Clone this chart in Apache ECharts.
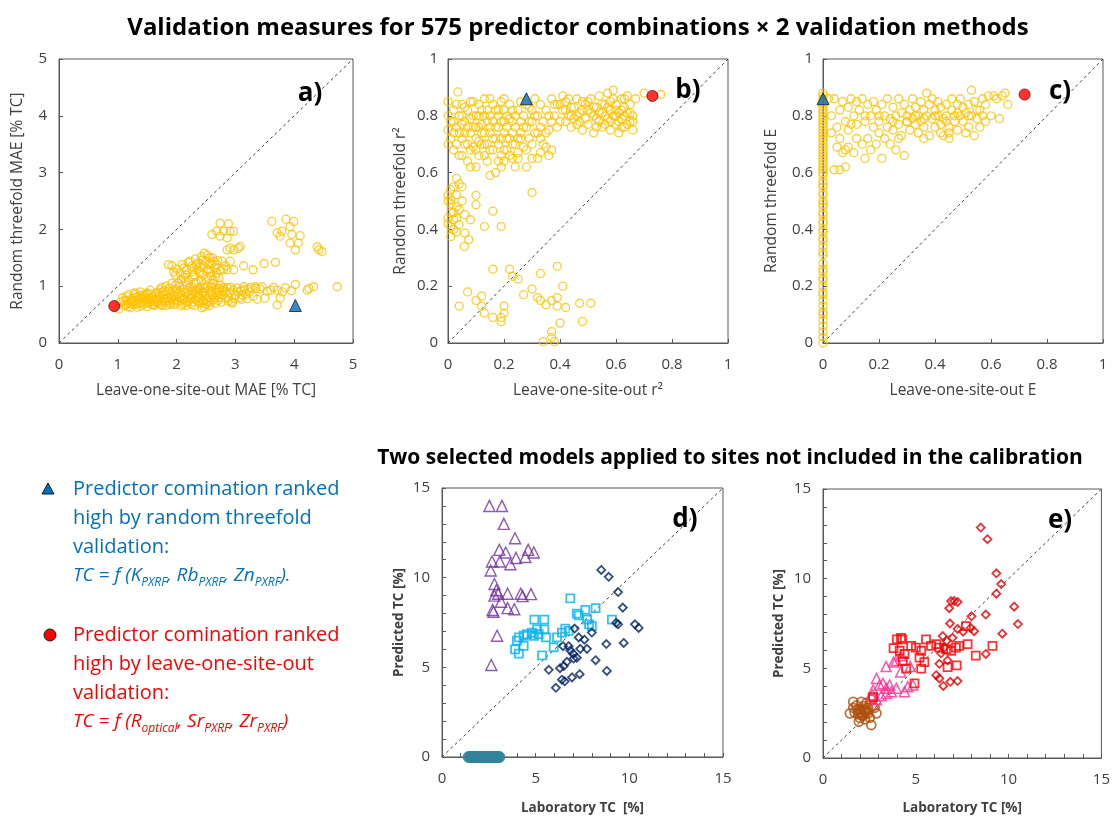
<!DOCTYPE html>
<html>
<head>
<meta charset="utf-8">
<script src="https://cdn.jsdelivr.net/npm/echarts@6/dist/echarts.min.js"></script>
<style>
html, body { margin: 0; padding: 0; background: #fff; }
#chart { width: 1113px; height: 816px; }
</style>
</head>
<body>
<div id="chart"></div>
<script>
// ---- data ----
// a) leave-one-site-out MAE vs random threefold MAE
var maeYellow = [
  [1.02,0.6],[1.05,0.72],[1.08,0.8],[1.12,0.66],[1.15,0.75],[1.18,0.85],[1.2,0.7],[1.22,0.62],[1.25,0.78],[1.28,0.88],
  [1.3,0.68],[1.32,0.74],[1.35,0.82],[1.38,0.9],[1.4,0.65],[1.42,0.72],[1.45,0.79],[1.48,0.86],[1.5,0.7],[1.52,0.76],
  [1.55,0.93],[1.58,0.67],[1.6,0.82],[1.62,0.74],[1.65,0.88],[1.68,0.7],[1.7,0.78],[1.72,0.95],[1.75,0.66],[1.78,0.84],
  [1.8,0.73],[1.82,1.0],[1.85,0.9],[1.88,0.68],[1.9,0.8],[1.92,1.05],[1.95,0.75],[1.97,0.92],[2.0,0.7],[2.02,0.86],
  [2.05,1.0],[2.07,0.65],[2.1,0.78],[2.12,0.94],[2.15,1.08],[2.17,0.72],[2.2,0.84],[2.22,0.98],[2.25,0.68],[2.27,0.9],
  [2.3,1.04],[2.32,0.76],[2.35,0.82],[2.37,0.96],[2.4,0.7],[2.42,1.1],[2.45,0.88],[2.47,0.64],[2.5,0.78],[2.52,1.0],
  [2.55,0.92],[2.57,0.72],[2.6,0.85],[2.62,1.05],[2.65,0.8],[2.67,0.95],[2.7,0.75],[2.72,0.9],[2.75,1.02],[2.78,0.84],
  [2.8,0.95],[2.83,0.78],[2.86,0.98],[2.9,0.88],[2.93,0.72],[2.96,0.93],[3.0,0.85],[3.03,0.97],[3.07,0.8],[3.1,0.92],
  [3.14,0.99],[3.18,0.86],[3.22,0.95],[3.26,0.98],[3.3,0.82],[3.42,0.95],[3.45,0.99],[3.6,0.93],[3.65,0.98],
  [1.35,0.7],[1.45,0.84],[1.55,0.72],[1.65,0.78],[1.75,0.74],[1.85,0.8],[1.95,0.85],[2.05,0.8],[2.15,0.88],[2.25,0.78],
  [2.35,0.9],[2.45,0.75],[2.55,0.82],[1.6,0.68],[1.7,0.88],[1.8,0.92],[1.9,0.7],[2.0,0.95],[2.1,0.68],[2.2,0.74],
  [2.3,0.66],[2.4,0.98],[2.5,0.68],[1.25,0.72],[1.15,0.68],[1.4,0.78],[1.5,0.88],[1.3,0.8],[2.08,1.12],[1.98,1.02],
  [2.28,0.98],[2.38,0.86],[2.48,0.96],[2.58,0.98],[2.68,0.88],[2.78,0.92],[2.88,0.8],[2.92,0.98],[3.05,0.9],[3.15,0.94],[3.35,0.96],
  [1.1,0.74],[1.14,0.82],[1.18,0.64],[1.22,0.76],[1.26,0.68],[1.3,0.86],[1.33,0.63],[1.36,0.77],[1.4,0.84],[1.43,0.68],
  [1.46,0.74],[1.5,0.64],[1.53,0.8],[1.56,0.86],[1.6,0.76],[1.63,0.66],[1.66,0.72],[1.7,0.82],[1.73,0.68],[1.76,0.9],
  [1.79,0.78],[1.82,0.66],[1.86,0.74],[1.89,0.86],[1.92,0.78],[1.96,0.68],[1.99,0.82],[2.03,0.74],[2.06,0.9],[2.09,0.84],
  [2.13,0.76],[2.16,0.66],[2.19,0.92],[2.23,0.8],[2.26,0.86],[2.29,0.72],[2.33,0.94],[2.36,0.74],[2.39,0.8],[2.43,0.9],
  [2.46,0.7],[2.49,0.84],[2.53,0.74],[2.56,0.66],[2.59,0.9],[2.63,0.76],[2.66,0.7],[2.69,0.84],[2.73,0.8],[2.76,0.72],
  [2.79,0.98],[2.84,0.9],[2.88,0.74],[2.98,0.78],[3.12,0.84],[3.24,0.9],[1.75,0.98],[1.88,0.96],[2.02,1.05],[2.18,1.02],
  [2.33,1.06],[2.47,1.04],[2.6,1.0],[2.73,0.96],
  [1.86,1.38],[1.95,1.25],[1.98,1.2],[2.06,1.23],[2.09,1.38],[2.12,1.15],[2.17,1.29],[2.2,1.42],[2.23,1.44],[2.26,1.35],
  [2.3,1.2],[2.32,1.48],[2.35,1.3],[2.37,1.41],[2.4,1.23],[2.42,1.52],[2.45,1.36],[2.47,1.58],[2.49,1.44],[2.52,1.28],
  [2.54,1.29],[2.56,1.5],[2.58,1.18],[2.6,1.4],[2.63,1.44],[2.65,1.32],[2.68,1.23],[2.7,1.45],[2.72,1.15],[2.77,1.44],
  [2.8,1.3],[2.86,1.29],[2.91,1.44],[2.97,1.29],[2.2,1.11],[2.28,1.16],[2.5,1.12],[2.62,1.1],[2.4,1.34],[2.15,1.2],
  [2.55,1.38],[2.44,1.46],[2.34,1.38],[2.52,1.55],[2.61,1.5],[2.68,1.38],[2.75,1.28],[2.38,1.26],[2.27,1.26],[2.45,1.2],
  [2.58,1.25],[2.66,1.16],[2.12,1.32],[2.0,1.3],[1.92,1.36],[2.83,1.36],
  [2.74,2.11],[2.88,2.1],[2.91,1.97],[2.8,1.97],[2.97,1.97],[2.68,1.97],[2.6,1.91],[2.74,1.88],[2.86,1.85],[2.91,1.67],
  [2.86,1.64],[3.05,1.67],[2.97,1.64],[3.08,1.7],[3.14,1.36],[3.3,1.29],[3.49,1.4],[3.68,1.42],
  [3.62,2.14],[3.86,2.18],[3.99,2.14],[3.93,2.05],[3.71,1.94],[3.79,1.97],[3.76,1.88],[3.96,1.91],[4.1,1.89],[4.07,1.76],
  [3.93,1.76],[4.02,1.64],[4.39,1.69],[4.47,1.61],[4.42,1.64],
  [4.73,0.99],[4.33,0.99],[4.22,0.93],[4.02,1.03],[3.85,0.97],[3.71,0.93],[3.71,0.67],[3.76,0.79],[3.54,0.91],[3.5,0.79],
  [3.37,0.77],[3.34,0.99],[3.8,0.9],[3.95,0.92],[4.25,0.96],[2.95,0.7],[3.1,0.77],[3.2,0.78],[2.43,0.62]
];
var maeRed = [[0.94, 0.65]];
var maeBlue = [[4.02, 0.66]];

// b) r2
var r2Yellow = [
  [0.0,0.85],[0.0,0.8],[0.0,0.75],[0.0,0.7],[0.01,0.72],[0.01,0.78],[0.02,0.82],[0.02,0.68],[0.03,0.76],[0.035,0.884],
  [0.04,0.8],[0.04,0.66],[0.05,0.72],[0.05,0.84],[0.06,0.7],[0.06,0.78],[0.07,0.64],[0.07,0.82],[0.08,0.74],[0.08,0.68],
  [0.09,0.8],[0.09,0.85],[0.1,0.72],[0.1,0.62],[0.11,0.76],[0.11,0.66],[0.12,0.82],[0.12,0.7],[0.13,0.86],[0.13,0.74],
  [0.14,0.78],[0.14,0.64],[0.15,0.8],[0.15,0.68],[0.16,0.84],[0.16,0.72],[0.17,0.76],[0.17,0.6],[0.18,0.7],[0.18,0.82],
  [0.19,0.66],[0.19,0.78],[0.2,0.74],[0.2,0.86],[0.21,0.68],[0.21,0.8],[0.22,0.72],[0.22,0.84],[0.23,0.65],[0.23,0.78],
  [0.24,0.76],[0.24,0.7],[0.25,0.82],[0.25,0.67],[0.26,0.74],[0.26,0.85],[0.27,0.69],[0.27,0.8],[0.28,0.62],[0.28,0.76],
  [0.29,0.72],[0.29,0.83],[0.3,0.7],[0.3,0.78],[0.31,0.86],[0.31,0.74],[0.32,0.65],[0.32,0.8],[0.33,0.72],[0.33,0.84],
  [0.34,0.78],[0.35,0.69],[0.35,0.82],[0.36,0.75],[0.37,0.68],[0.37,0.86],
  [0.02,0.74],[0.03,0.7],[0.05,0.77],[0.06,0.83],[0.08,0.79],[0.09,0.69],[0.11,0.71],[0.12,0.77],[0.13,0.8],[0.14,0.7],
  [0.15,0.74],[0.16,0.78],[0.17,0.82],[0.18,0.76],[0.19,0.72],[0.2,0.68],[0.21,0.76],[0.22,0.79],[0.23,0.82],[0.24,0.8],
  [0.1,0.8],[0.07,0.76],[0.04,0.74],[0.13,0.66],[0.18,0.64],[0.11,0.84],[0.15,0.86],[0.19,0.85],[0.26,0.78],[0.28,0.84],
  [0.02,0.78],[0.03,0.84],[0.05,0.66],[0.06,0.74],[0.07,0.7],[0.08,0.85],[0.09,0.76],[0.1,0.68],[0.11,0.8],[0.12,0.74],
  [0.13,0.7],[0.14,0.82],[0.15,0.76],[0.16,0.68],[0.17,0.72],[0.18,0.8],[0.19,0.62],[0.2,0.78],[0.21,0.72],[0.22,0.66],
  [0.23,0.7],[0.25,0.72],[0.27,0.76],[0.29,0.78],[0.31,0.8],[0.33,0.76],[0.35,0.74],[0.37,0.78],[0.05,0.8],[0.1,0.76],
  [0.2,0.82],[0.3,0.82],[0.34,0.7],[0.36,0.66],[0.28,0.68],[0.23,0.74],[0.26,0.72],[0.32,0.74],
  [0.38,0.8],[0.39,0.76],[0.4,0.84],[0.41,0.82],[0.42,0.78],[0.43,0.86],[0.44,0.8],[0.45,0.83],[0.46,0.77],[0.47,0.81],
  [0.48,0.85],[0.48,0.75],[0.49,0.79],[0.5,0.82],[0.5,0.77],[0.51,0.86],[0.52,0.8],[0.52,0.74],[0.53,0.83],[0.54,0.78],
  [0.54,0.87],[0.55,0.81],[0.55,0.76],[0.56,0.84],[0.57,0.79],[0.57,0.88],[0.58,0.82],[0.58,0.75],[0.59,0.86],[0.59,0.8],
  [0.6,0.77],[0.6,0.84],[0.61,0.81],[0.61,0.74],[0.62,0.86],[0.62,0.79],[0.63,0.83],[0.63,0.76],[0.64,0.81],[0.64,0.87],
  [0.65,0.78],[0.65,0.84],[0.66,0.8],[0.66,0.75],[0.67,0.86],[0.7,0.88],[0.76,0.875],[0.41,0.87],[0.44,0.76],[0.46,0.86],
  [0.49,0.84],[0.53,0.79],[0.56,0.8],[0.59,0.89],[0.6,0.8],[0.62,0.82],[0.64,0.77],[0.43,0.8],[0.47,0.78],[0.51,0.81],
  [0.58,0.78],[0.36,0.8],[0.39,0.84],[0.42,0.82],[0.45,0.79],[0.55,0.84],[0.57,0.83],[0.63,0.8],
  [0.38,0.84],[0.4,0.78],[0.42,0.85],[0.44,0.83],[0.46,0.8],[0.48,0.82],[0.5,0.85],[0.52,0.83],[0.53,0.76],[0.54,0.81],
  [0.56,0.77],[0.58,0.85],[0.6,0.82],[0.61,0.78],[0.62,0.76],[0.63,0.86],[0.65,0.81],[0.66,0.78],
  [0.08,0.62],[0.15,0.59],[0.2,0.64],[0.25,0.65],[0.3,0.65],[0.33,0.67],[0.24,0.62],[0.3,0.53],
  [0.058,0.34],[0.074,0.364],[0.06,0.387],[0.08,0.434],[0.1,0.52],[0.1,0.487],[0.13,0.41],[0.16,0.464],[0.19,0.41],
  [0.04,0.56],[0.03,0.58],[0.05,0.55],[0.01,0.54],[0.01,0.505],[0.03,0.48],[0.01,0.458],[0.02,0.434],[0.04,0.417],
  [0.01,0.41],[0.03,0.39],[0.01,0.375],[0.04,0.47],[0.06,0.452],[0.03,0.522],[0.0,0.5],[0.0,0.44],[0.02,0.4],
  [0.0,0.52],[0.02,0.46],[0.0,0.42],[0.03,0.44],[0.05,0.5],[0.02,0.55],[0.01,0.49],
  [0.04,0.13],[0.07,0.18],[0.1,0.15],[0.12,0.165],[0.12,0.13],[0.13,0.105],[0.16,0.09],[0.19,0.09],[0.2,0.105],[0.2,0.13],
  [0.19,0.075],[0.22,0.26],[0.16,0.26],[0.23,0.235],[0.25,0.225],[0.27,0.17],[0.3,0.19],[0.33,0.245],[0.32,0.16],[0.33,0.15],
  [0.35,0.135],[0.37,0.15],[0.39,0.16],[0.39,0.27],[0.41,0.2],[0.39,0.13],[0.42,0.125],[0.4,0.07],[0.37,0.04],[0.34,0.005],
  [0.38,0.005],[0.37,0.02],[0.47,0.14],[0.48,0.076],[0.51,0.14]
];
var r2Red = [[0.73, 0.87]];
var r2Blue = [[0.28, 0.86]];

// c) E
var eYellow = [
  [0.02,0.86],[0.03,0.8],[0.03,0.74],[0.04,0.86],[0.04,0.61],[0.05,0.76],[0.05,0.69],[0.06,0.82],[0.06,0.61],[0.07,0.85],
  [0.07,0.67],[0.08,0.78],[0.08,0.62],[0.09,0.83],[0.09,0.69],[0.1,0.77],[0.1,0.86],[0.11,0.8],[0.11,0.67],[0.12,0.77],
  [0.12,0.85],[0.13,0.82],[0.14,0.7],[0.14,0.86],[0.15,0.65],[0.15,0.78],[0.16,0.84],[0.16,0.72],[0.17,0.8],[0.17,0.68],
  [0.18,0.76],[0.18,0.85],[0.19,0.7],[0.19,0.82],[0.2,0.78],[0.2,0.74],[0.21,0.84],[0.21,0.65],[0.22,0.8],[0.22,0.72],
  [0.23,0.76],[0.23,0.86],[0.24,0.79],[0.24,0.7],[0.25,0.83],[0.25,0.75],[0.26,0.8],[0.26,0.68],[0.27,0.77],[0.27,0.86],
  [0.28,0.81],[0.28,0.73],[0.29,0.84],[0.29,0.66],[0.3,0.78],[0.3,0.8],[0.31,0.82],[0.31,0.75],[0.32,0.86],[0.32,0.79],
  [0.33,0.77],[0.33,0.83],[0.34,0.8],[0.34,0.74],[0.35,0.85],[0.35,0.78],[0.36,0.82],[0.36,0.76],[0.37,0.88],[0.37,0.8],
  [0.38,0.84],[0.38,0.73],[0.39,0.79],[0.39,0.86],[0.4,0.82],[0.4,0.76],[0.41,0.8],[0.41,0.85],[0.42,0.77],[0.42,0.83],
  [0.43,0.79],[0.43,0.73],[0.44,0.84],[0.44,0.8],[0.45,0.76],[0.45,0.72],[0.46,0.82],[0.46,0.86],[0.47,0.78],[0.47,0.8],
  [0.48,0.84],[0.48,0.75],[0.49,0.8],[0.49,0.86],[0.5,0.78],[0.5,0.83],[0.51,0.81],[0.51,0.74],[0.52,0.84],[0.52,0.76],
  [0.53,0.89],[0.53,0.8],[0.54,0.85],[0.54,0.73],[0.55,0.79],[0.55,0.82],[0.56,0.76],[0.57,0.86],[0.57,0.8],[0.58,0.78],
  [0.58,0.84],[0.59,0.87],[0.6,0.8],[0.61,0.87],[0.62,0.86],[0.63,0.79],[0.64,0.87],[0.65,0.88],[0.66,0.84],[0.3,0.78],
  [0.2,0.8],[0.25,0.78],[0.33,0.8],[0.36,0.79],[0.4,0.8],[0.44,0.78],[0.48,0.81],[0.52,0.8],[0.56,0.82],[0.15,0.8],
  [0.12,0.72],[0.09,0.75],[0.06,0.72],[0.08,0.68],[0.45,0.74],[0.36,0.72],[0.42,0.74],[0.27,0.72]
];
var eZeroY = [0.0,0.02,0.04,0.06,0.08,0.1,0.11,0.13,0.15,0.17,0.18,0.2,0.22,0.23,0.25,0.26,0.28,0.31,0.32,0.34,
  0.36,0.37,0.39,0.4,0.42,0.43,0.45,0.46,0.48,0.49,0.5,0.52,0.53,0.55,0.56,0.57,0.59,0.6,0.61,0.62,0.63,0.64,0.65,
  0.66,0.67,0.68,0.69,0.7,0.71,0.72,0.73,0.74,0.75,0.76,0.77,0.78,0.79,0.8,0.81,0.82,0.83,0.84,0.85,0.86,0.87,0.88];
var eRed = [[0.72, 0.875]];
var eBlue = [[0.0, 0.86]];

// d) model ranked by random threefold validation
var dPurple = [
  [2.53,14.0],[3.2,14.0],[3.3,13.0],[3.9,12.2],[3.06,11.55],[2.67,10.9],[3.08,10.9],[3.4,11.4],[3.65,10.75],[3.95,11.1],
  [4.45,11.15],[4.6,11.55],[4.9,11.4],[2.6,10.4],[2.8,9.65],[2.9,9.3],[3.0,9.1],[2.8,9.0],[3.5,9.1],[4.2,9.1],
  [4.3,8.97],[4.75,9.08],[3.15,8.66],[3.5,8.3],[3.86,8.24],[2.7,8.2],[2.75,8.1],[2.94,6.76],[2.63,5.13]
];
var dCyan = [
  [6.85,8.84],[7.2,8.0],[7.3,7.9],[7.65,8.2],[8.2,8.3],[7.75,7.66],[7.85,7.4],[8.0,7.3],[9.07,7.66],[4.93,7.66],
  [5.46,7.66],[5.46,7.12],[5.55,6.67],[5.07,7.12],[4.8,6.94],[4.54,6.85],[4.36,6.76],[4.1,6.67],[4.0,6.49],[4.36,6.2],
  [3.9,6.0],[4.1,5.76],[5.34,5.67],[5.96,6.12],[6.14,6.67],[6.4,6.94],[6.58,7.16],[6.76,7.03],[5.16,6.85],[4.9,6.76]
];
var dNavy = [
  [8.5,10.43],[8.9,10.05],[9.4,9.2],[9.65,8.33],[9.3,7.48],[9.4,7.4],[10.3,7.4],[10.5,7.2],[7.08,7.16],[7.3,6.67],
  [7.6,6.54],[8.0,6.94],[8.77,6.3],[9.7,6.36],[6.46,6.18],[6.76,6.18],[6.85,5.94],[7.0,5.76],[7.38,6.03],[7.74,6.03],
  [7.2,5.53],[8.2,5.4],[6.67,5.31],[6.5,5.07],[6.3,4.95],[5.7,4.86],[8.8,4.8],[6.94,4.44],[7.35,4.62],[6.4,4.31],
  [6.55,4.22],[6.08,3.86],[7.03,5.49]
];
var dTealX = [1.42,1.5,1.57,1.63,1.7,1.76,1.83,1.9,1.96,2.03,2.1,2.15,2.22,2.3,2.36,2.44,2.5,2.57,2.63,2.7,2.78,2.85,2.92,3.0,3.06];

// e) model ranked by leave-one-site-out validation
var eBrown = [
  [1.63,3.13],[2.07,3.13],[1.45,2.49],[1.71,2.53],[1.93,2.02],[2.6,1.84],[2.88,2.49],[2.7,2.89],[2.43,2.8],[2.16,2.35],
  [1.89,2.71],[2.25,2.62],[2.52,2.25],[1.98,2.25],[2.34,3.07],[2.6,3.25],[1.8,2.93],[2.07,2.53],[1.63,2.8],[2.16,2.89],
  [2.43,2.49],[1.89,2.44],[2.25,2.16],[2.79,2.8],[2.0,2.7],[2.1,2.4],[2.3,2.5],[2.2,2.75],[1.95,2.55],[2.4,2.65]
];
var ePink = [
  [2.88,4.44],[2.7,3.8],[3.05,4.07],[3.4,5.1],[3.8,5.35],[3.95,5.44],[4.2,5.7],[4.18,4.8],[4.7,5.1],[3.23,4.16],
  [3.59,4.07],[3.68,3.7],[3.41,3.6],[3.14,3.47],[2.88,3.25],[2.66,3.53],[4.39,3.7],[4.57,3.98],[4.84,4.07],[3.95,3.89],[3.41,3.89]
];
var eSquare = [
  [3.98,6.62],[4.27,6.62],[3.8,6.13],[4.13,5.98],[4.39,5.8],[4.3,5.4],[4.48,4.98],[4.93,4.16],[4.75,6.25],[5.0,6.16],
  [5.2,5.6],[5.29,4.98],[5.46,5.35],[5.55,6.62],[5.82,6.25],[6.1,6.35],[6.27,6.16],[6.63,6.07],[6.9,5.98],[7.16,6.16],
  [6.71,5.07],[7.2,5.16],[7.34,6.25],[7.7,7.35],[7.79,6.35],[8.23,5.71],[9.13,6.25],[5.29,5.98],[4.2,6.7],[2.7,3.4]
];
var eDiamond = [
  [8.5,12.85],[8.86,12.2],[9.34,10.3],[9.6,9.7],[9.34,9.16],[10.3,8.44],[10.5,7.47],[8.77,8.0],[8.0,7.9],[9.66,6.93],
  [8.14,7.07],[7.96,7.25],[7.55,7.04],[7.25,7.2],[6.84,7.5],[6.8,8.35],[6.9,8.75],[7.07,8.75],[7.25,8.7],[6.45,6.8],
  [6.66,6.53],[6.98,6.7],[6.36,5.84],[6.27,5.25],[6.1,4.62],[6.27,4.44],[6.48,4.02],[6.86,4.25],[7.25,4.29],[8.77,5.8],
  [6.71,5.44],[6.54,6.16]
];

var font = '"Open Sans", "Noto Sans", sans-serif';
var axisColor = '#595959';
var textColor = '#404040';

var grids = [
  {left: 59, top: 59, width: 294, height: 284},
  {left: 448, top: 59, width: 280, height: 284},
  {left: 823, top: 59, width: 280, height: 284},
  {left: 442, top: 488, width: 281, height: 276},
  {left: 823, top: 489, width: 280, height: 274}
];
grids.forEach(function (g) {
  g.show = true;
  g.borderColor = axisColor;
  g.borderWidth = 1;
  g.containLabel = false;
});

function makeAxis(gi, max, interval, name, gap, margin, bold, minor) {
  return {
    gridIndex: gi,
    type: 'value',
    min: 0,
    max: max,
    interval: interval,
    name: name,
    nameLocation: 'middle',
    nameGap: gap,
    nameTextStyle: {
      fontFamily: font,
      fontSize: bold ? 13.5 : 15.5,
      fontWeight: bold ? 'bold' : 'normal',
      color: textColor
    },
    axisLine: {show: true, onZero: false, lineStyle: {color: axisColor, width: 1}},
    axisTick: {show: true, inside: true, length: 4, lineStyle: {color: axisColor}},
    minorTick: {show: !!minor, splitNumber: 5, length: 4, lineStyle: {color: axisColor}},
    axisLabel: {fontFamily: font, fontSize: 15, color: textColor, margin: margin},
    splitLine: {show: false}
  };
}

var xAxes = [
  makeAxis(0, 5, 1, 'Leave-one-site-out MAE [% TC]', 40, 14),
  makeAxis(1, 1, 0.2, 'Leave-one-site-out r\u00B2', 40, 14),
  makeAxis(2, 1, 0.2, 'Leave-one-site-out E', 40, 14),
  makeAxis(3, 15, 5, 'Laboratory TC  [%]', 44, 14, true, true),
  makeAxis(4, 15, 5, 'Laboratory TC [%]', 43, 14, true, true)
];
var yAxes = [
  makeAxis(0, 5, 1, 'Random threefold MAE [% TC]', 33, 12),
  makeAxis(1, 1, 0.2, 'Random threefold r\u00B2', 39, 10),
  makeAxis(2, 1, 0.2, 'Random threefold E', 43, 10),
  makeAxis(3, 15, 5, 'Predicted TC [%]', 36, 12, true, true),
  makeAxis(4, 15, 5, 'Predicted TC [%]', 37, 12, true, true)
];

function diag(gi, max) {
  return {
    type: 'line', xAxisIndex: gi, yAxisIndex: gi,
    data: [[0, 0], [max, max]],
    symbol: 'none', silent: true, z: 1,
    lineStyle: {color: '#404040', width: 1, type: [3, 3]}
  };
}

function pts(gi, data, symbol, size, color, lw, z) {
  return {
    type: 'scatter', xAxisIndex: gi, yAxisIndex: gi,
    data: data, symbol: symbol, symbolSize: size, z: z || 2,
    itemStyle: {color: 'rgba(0,0,0,0)', borderColor: color, borderWidth: lw || 1.3}
  };
}

function marker(gi, data, symbol, size, fill, border, z) {
  return {
    type: 'scatter', xAxisIndex: gi, yAxisIndex: gi,
    data: data, symbol: symbol, symbolSize: size, z: z || 5,
    itemStyle: {color: fill, borderColor: border, borderWidth: 1}
  };
}

var yellow = '#FFC000';
var series = [
  diag(0, 5), diag(1, 1), diag(2, 1), diag(3, 15), diag(4, 15),
  pts(0, maeYellow, 'circle', 8, yellow),
  marker(0, maeRed, 'circle', 11, '#FF0000', '#7f0000'),
  marker(0, maeBlue, 'triangle', 12, '#0070C0', '#1a1a1a'),
  pts(1, r2Yellow, 'circle', 8, yellow),
  marker(1, r2Red, 'circle', 11, '#FF0000', '#7f0000'),
  marker(1, r2Blue, 'triangle', 12, '#0070C0', '#1a1a1a'),
  pts(2, eYellow, 'circle', 8, yellow),
  pts(2, eZeroY.map(function (y) { return [0, y]; }), 'circle', 8, yellow),
  marker(2, eRed, 'circle', 11, '#FF0000', '#7f0000'),
  marker(2, eBlue, 'triangle', 12, '#0070C0', '#1a1a1a'),
  pts(3, dPurple, 'triangle', 11, '#7030A0', 1.4),
  pts(3, dCyan, 'rect', 8, '#00B0F0', 1.8),
  pts(3, dNavy, 'diamond', 8, '#002060', 1.8),
  {
    type: 'scatter', xAxisIndex: 3, yAxisIndex: 3, z: 3,
    data: dTealX.map(function (x) { return [x, 0]; }),
    symbol: 'circle', symbolSize: 11,
    itemStyle: {color: '#31849B', borderColor: '#31849B', borderWidth: 1}
  },
  pts(4, eBrown, 'circle', 9, '#B0500F', 1.8),
  pts(4, ePink, 'triangle', 10, '#FF2F8E', 1.5),
  pts(4, eSquare, 'rect', 8, '#FF0000', 1.8),
  pts(4, eDiamond, 'diamond', 8, '#E00000', 1.8)
];

function label(text, x, y) {
  return {
    type: 'text', z: 100,
    style: {text: text, x: x, y: y, align: 'center', verticalAlign: 'middle',
      font: 'bold 26px ' + font, fill: '#000'}
  };
}

function line(text, x, y, color) {
  return {
    type: 'text', z: 100,
    style: {text: text, x: x, y: y, align: 'left', verticalAlign: 'middle',
      font: '20px ' + font, fill: color}
  };
}

function formula(text, x, y, color) {
  return {
    type: 'text', z: 100,
    style: {
      text: text, x: x, y: y, align: 'left', verticalAlign: 'middle', fill: color,
      rich: {
        i: {fontFamily: font, fontSize: 19, fontStyle: 'italic', color: color, lineHeight: 30, verticalAlign: 'middle'},
        s: {fontFamily: font, fontSize: 12, fontStyle: 'italic', color: color, lineHeight: 30, verticalAlign: 'bottom', padding: [0, 0, 2, 0]}
      }
    }
  };
}

var blue = '#0070C0';
var red = '#FF0000';

var graphics = [
  {type: 'text', z: 100, style: {text: 'Validation measures for 575 predictor combinations \u00D7 2 validation methods',
    x: 578, y: 28, align: 'center', verticalAlign: 'middle', font: 'bold 24px ' + font, fill: '#000'}},
  {type: 'text', z: 100, style: {text: 'Two selected models applied to sites not included in the calibration',
    x: 730, y: 458, align: 'center', verticalAlign: 'middle', font: 'bold 21px ' + font, fill: '#000'}},
  label('a)', 310, 94), label('b)', 688, 91), label('c)', 1060, 92), label('d)', 685, 520), label('e)', 1060, 521),
  {type: 'polygon', z: 100, shape: {points: [[48, 483], [54, 494], [42, 494]]},
    style: {fill: '#0070C0', stroke: '#1a1a1a', lineWidth: 1}},
  line('Predictor comination ranked', 73, 489, blue),
  line('high by random threefold', 73, 518, blue),
  line('validation:', 73, 547, blue),
  formula('{i|TC = f (K}{s|PXRF}{i|, Rb}{s|PXRF}{i|, Zn}{s|PXRF}{i|).}', 73, 576, blue),
  {type: 'circle', z: 100, shape: {cx: 50, cy: 635, r: 6},
    style: {fill: '#FF0000', stroke: '#1a1a1a', lineWidth: 1}},
  line('Predictor comination ranked', 73, 635, red),
  line('high by leave-one-site-out', 73, 664, red),
  line('validation:', 73, 693, red),
  formula('{i|TC = f (R}{s|optical}{i|, Sr}{s|PXRF}{i|, Zr}{s|PXRF}{i|)}', 73, 722, red)
];

var chart = echarts.init(document.getElementById('chart'));
chart.setOption({
  animation: false,
  backgroundColor: '#fff',
  grid: grids,
  xAxis: xAxes,
  yAxis: yAxes,
  series: series,
  graphic: graphics
});
</script>
</body>
</html>
